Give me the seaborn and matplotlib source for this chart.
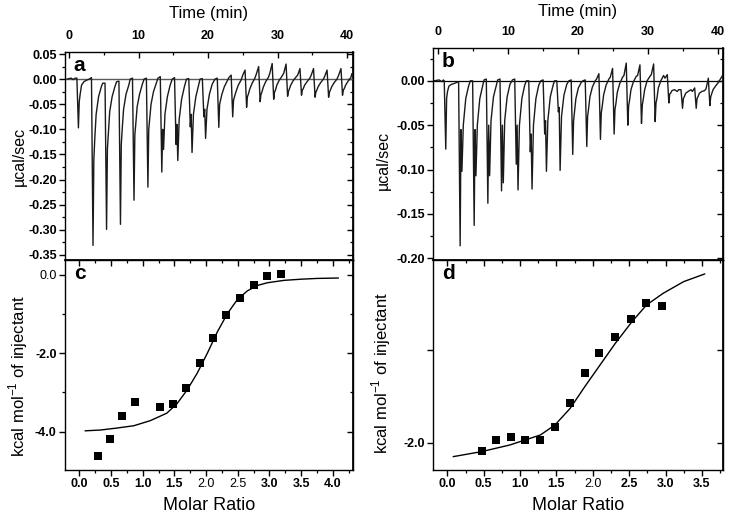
import numpy as np
import pandas as pd
import matplotlib
matplotlib.use("Agg")
import matplotlib.pyplot as plt
import seaborn as sns
from matplotlib.ticker import MultipleLocator, FixedLocator, FuncFormatter, FormatStrFormatter

sns.set_theme(style="white", rc={
    "axes.edgecolor": "black", "text.color": "black", "axes.labelcolor": "black",
    "xtick.color": "black", "ytick.color": "black",
})
plt.rcParams['font.family'] = ['Liberation Sans', 'DejaVu Sans']
plt.rcParams['axes.unicode_minus'] = False
plt.rcParams['mathtext.fontset'] = 'custom'
plt.rcParams['mathtext.rm'] = 'Liberation Sans'

# ---------------- Panel a: raw thermogram (per-injection vertices) -------------
a_tp   = [1.35, 3.45, 5.4, 7.4, 9.35, 11.35, 13.35, 15.4, 17.45, 19.4, 21.55, 23.55, 25.55, 27.5, 29.45, 31.45, 33.45, 35.4, 37.35, 39.35]
a_pre  = [0.002, 0.003, -0.008, -0.004, 0.002, 0.002, 0.005, 0.003, 0.001, 0.001, 0.002, 0.008, 0.018, 0.025, 0.031, 0.030, 0.021, 0.021, 0.018, 0.021]
a_d1   = [-0.097, -0.331, -0.299, -0.289, -0.241, -0.215, -0.185, -0.130, -0.095, -0.075, -0.096, -0.075, -0.056, -0.045, -0.040, -0.034, -0.032, -0.036, -0.036, -0.032]
a_bump = [-0.045, -0.160, -0.140, -0.130, -0.110, -0.100, -0.100, -0.090, -0.070, -0.060, -0.050, -0.042, -0.035, -0.030, -0.026, -0.024, -0.022, -0.026, -0.026, -0.022]
a_d2   = [-0.030, -0.120, -0.110, -0.100, -0.090, -0.080, -0.140, -0.162, -0.146, -0.118, -0.042, -0.036, -0.030, -0.026, -0.022, -0.020, -0.019, -0.022, -0.022, -0.019]
a_r1   = [-0.012, -0.070, -0.065, -0.060, -0.055, -0.050, -0.070, -0.080, -0.070, -0.060, -0.030, -0.026, -0.020, -0.016, -0.012, -0.012, -0.012, -0.015, -0.015, -0.012]
a_r2   = [-0.005, -0.035, -0.035, -0.030, -0.030, -0.025, -0.035, -0.040, -0.035, -0.030, -0.015, -0.012, -0.008, -0.005, -0.002, -0.003, -0.005, -0.007, -0.007, -0.004]
a_r3   = [-0.002, -0.015, -0.015, -0.012, -0.010, -0.008, -0.012, -0.015, -0.012, -0.010, -0.004, -0.002, 0.002, 0.004, 0.006, 0.004, 0.002, 0.000, 0.000, 0.003]
a_plat = [0.000, -0.008, -0.005, 0.000, 0.000, 0.002, 0.000, 0.000, 0.000, 0.000, 0.003, 0.008, 0.010, 0.012, 0.012, 0.008, 0.008, 0.006, 0.008, 0.008]
a_start_t = [-0.3, 0.3, 0.6, 0.9]
a_start_v = [0.000, 0.002, -0.001, 0.002]
a_end_t, a_end_v = 40.7, 0.011

# ---------------- Panel b: raw thermogram -------------
b_tp   = [1.15, 3.2, 5.2, 7.15, 9.1, 11.2, 13.2, 15.25, 17.2, 19.25, 21.25, 23.2, 25.15, 27.1, 29.05, 31.0, 32.95, 34.9, 36.85, 38.8]
b_pre  = [0.000, -0.001, 0.000, 0.002, 0.002, 0.002, 0.000, 0.001, 0.000, 0.001, 0.001, 0.008, 0.014, 0.020, 0.018, 0.019, 0.007, -0.010, -0.008, 0.003]
b_d1   = [-0.077, -0.186, -0.163, -0.138, -0.124, -0.094, -0.080, -0.060, -0.035, -0.083, -0.074, -0.066, -0.060, -0.050, -0.048, -0.046, -0.025, -0.031, -0.031, -0.028]
b_bump = [-0.020, -0.055, -0.055, -0.050, -0.050, -0.050, -0.060, -0.045, -0.030, -0.045, -0.040, -0.036, -0.032, -0.028, -0.027, -0.025, -0.015, -0.020, -0.020, -0.018]
b_d2   = [-0.012, -0.102, -0.107, -0.107, -0.115, -0.123, -0.122, -0.102, -0.101, -0.035, -0.032, -0.029, -0.026, -0.022, -0.021, -0.020, -0.014, -0.018, -0.018, -0.015]
b_r1   = [-0.006, -0.050, -0.050, -0.045, -0.045, -0.050, -0.050, -0.045, -0.040, -0.020, -0.018, -0.016, -0.013, -0.010, -0.010, -0.008, -0.011, -0.014, -0.014, -0.010]
b_r2   = [-0.004, -0.020, -0.020, -0.018, -0.018, -0.020, -0.020, -0.018, -0.016, -0.008, -0.007, -0.005, -0.003, -0.001, 0.000, 0.000, -0.010, -0.012, -0.012, -0.006]
b_r3   = [-0.003, -0.006, -0.006, -0.005, -0.004, -0.005, -0.005, -0.005, -0.004, -0.002, 0.000, 0.002, 0.004, 0.005, 0.005, 0.006, -0.012, -0.010, -0.011, -0.002]
b_plat = [-0.002, 0.000, 0.001, 0.001, 0.001, 0.000, 0.000, 0.000, 0.000, 0.000, 0.002, 0.004, 0.006, 0.006, 0.007, 0.003, -0.010, -0.012, -0.009, 0.000]
b_start_t = [-0.5, 0.2, 0.6, 0.8]
b_start_v = [0.000, 0.001, -0.001, 0.001]
b_end_t, b_end_v = 40.6, 0.006

# ---------------- Panel c: integrated heats + fit -------------
c_ratio = [0.29, 0.48, 0.68, 0.88, 1.28, 1.48, 1.69, 1.90, 2.11, 2.32, 2.54, 2.75, 2.97, 3.19]
c_heat  = [-4.61, -4.19, -3.60, -3.24, -3.37, -3.30, -2.89, -2.26, -1.62, -1.03, -0.60, -0.25, -0.03, 0.02]
c_fit_x = [0.09, 0.33, 0.59, 0.86, 1.12, 1.38, 1.54, 1.70, 1.86, 2.02, 2.18, 2.34, 2.49, 2.65, 2.81, 2.97, 3.23, 3.50, 3.76, 4.09]
c_fit_y = [-3.98, -3.96, -3.91, -3.85, -3.72, -3.53, -3.29, -2.94, -2.51, -2.00, -1.45, -0.98, -0.64, -0.41, -0.27, -0.20, -0.14, -0.11, -0.09, -0.08]

# ---------------- Panel d -------------
d_ratio = [0.47, 0.67, 0.87, 1.07, 1.28, 1.48, 1.68, 1.89, 2.09, 2.31, 2.52, 2.73, 2.95]
d_heat  = [-2.086, -1.971, -1.935, -1.971, -1.971, -1.827, -1.568, -1.252, -1.036, -0.856, -0.665, -0.496, -0.525]
d_fit_x = [0.08, 0.47, 0.86, 1.28, 1.48, 1.69, 1.89, 2.10, 2.31, 2.54, 2.74, 2.97, 3.25, 3.54]
d_fit_y = [-2.151, -2.097, -2.025, -1.917, -1.809, -1.629, -1.396, -1.162, -0.928, -0.694, -0.514, -0.388, -0.263, -0.180]


def build_trace(st, sv, tp, pre, d1, bump, d2, r1, r2, r3, plat, et, ev):
    t = list(st); v = list(sv)
    n = len(tp)
    for i in range(n):
        t += [tp[i] - 0.22, tp[i], tp[i] + 0.12, tp[i] + 0.25, tp[i] + 0.45, tp[i] + 0.8, tp[i] + 1.2]
        v += [pre[i], d1[i], bump[i], d2[i], r1[i], r2[i], r3[i]]
        if i + 1 < n:
            t.append(tp[i + 1] - 0.55); v.append(plat[i])
    t.append(et); v.append(ev)
    return pd.DataFrame({"t": t, "v": v})


W, H = 729, 520
fig = plt.figure(figsize=(W / 100, H / 100), dpi=100)


def rect(l, r, t, b):
    return [l / W, 1 - b / H, (r - l) / W, (b - t) / H]


ax_a = fig.add_axes(rect(65, 353, 52, 260))
ax_c = fig.add_axes(rect(65, 353, 260, 470))
ax_b = fig.add_axes(rect(433, 723, 48, 260))
ax_d = fig.add_axes(rect(433, 723, 260, 470))

TICK_FS = 9
LAB_FS = 12

dfa = build_trace(a_start_t, a_start_v, a_tp, a_pre, a_d1, a_bump, a_d2, a_r1, a_r2, a_r3, a_plat, a_end_t, a_end_v)
dfb = build_trace(b_start_t, b_start_v, b_tp, b_pre, b_d1, b_bump, b_d2, b_r1, b_r2, b_r3, b_plat, b_end_t, b_end_v)

ax_a.axhline(0, color="#5a5a5a", lw=1.0, zorder=1)
ax_b.axhline(0, color="black", lw=0.9, zorder=1)
sns.lineplot(data=dfa, x="t", y="v", ax=ax_a, color="#1a1a1a", lw=1.0, estimator=None, sort=False)
sns.lineplot(data=dfb, x="t", y="v", ax=ax_b, color="#1a1a1a", lw=1.0, estimator=None, sort=False)

sns.lineplot(x=c_fit_x, y=c_fit_y, ax=ax_c, color="black", lw=1.0, estimator=None, sort=False)
sns.scatterplot(x=c_ratio, y=c_heat, ax=ax_c, marker="s", color="black", s=36, edgecolor="black", linewidth=0, zorder=3)
sns.lineplot(x=d_fit_x, y=d_fit_y, ax=ax_d, color="black", lw=1.0, estimator=None, sort=False)
sns.scatterplot(x=d_ratio, y=d_heat, ax=ax_d, marker="s", color="black", s=36, edgecolor="black", linewidth=0, zorder=3)

ax_a.set_xlim(-0.58, 40.86); ax_a.set_ylim(-0.360, 0.054)
ax_b.set_xlim(-0.67, 40.67); ax_b.set_ylim(-0.202, 0.037)
ax_c.set_xlim(-0.227, 4.32); ax_c.set_ylim(-4.98, 0.38)
ax_d.set_xlim(-0.197, 3.79); ax_d.set_ylim(-2.295, -0.03)

for ax in (ax_a, ax_b, ax_c, ax_d):
    for s in ax.spines.values():
        s.set_visible(True); s.set_color("black"); s.set_linewidth(1.0)
    ax.set_xlabel(""); ax.set_ylabel("")


def style_ticks(ax, xmaj, xmin, ymaj, ymin, xfmt, yfmt, top_labels):
    ax.xaxis.set_major_locator(xmaj); ax.xaxis.set_minor_locator(xmin)
    ax.yaxis.set_major_locator(ymaj); ax.yaxis.set_minor_locator(ymin)
    ax.xaxis.set_major_formatter(xfmt); ax.yaxis.set_major_formatter(yfmt)
    if top_labels:
        ax.xaxis.tick_top()
        ax.tick_params(axis="x", which="both", direction="in", top=True, bottom=False,
                       labeltop=True, labelbottom=False, pad=7)
    else:
        ax.tick_params(axis="x", which="both", direction="out", bottom=True, top=False, pad=2)
        sx = ax.secondary_xaxis("top")
        sx.xaxis.set_major_locator(xmaj)
        sx.xaxis.set_minor_locator(xmin)
        sx.tick_params(axis="x", which="both", direction="in", labeltop=False)
        sx.tick_params(axis="x", which="major", length=4, width=1.0)
        sx.tick_params(axis="x", which="minor", length=2.5, width=0.9)
    ax.tick_params(axis="y", which="both", direction="out", left=True, right=False, pad=2)
    ax.tick_params(which="major", length=4, width=1.0, labelsize=TICK_FS)
    ax.tick_params(which="minor", length=2.5, width=0.9)
    sy = ax.secondary_yaxis("right")
    sy.yaxis.set_major_locator(ymaj); sy.yaxis.set_minor_locator(ymin)
    sy.tick_params(axis="y", which="both", direction="in", labelright=False)
    sy.tick_params(axis="y", which="major", length=4, width=1.0)
    sy.tick_params(axis="y", which="minor", length=2.5, width=0.9)


style_ticks(ax_a, MultipleLocator(10), MultipleLocator(5), MultipleLocator(0.05), MultipleLocator(0.025),
            FormatStrFormatter("%d"), FormatStrFormatter("%.2f"), True)
style_ticks(ax_b, MultipleLocator(10), MultipleLocator(5), MultipleLocator(0.05), MultipleLocator(0.025),
            FormatStrFormatter("%d"), FormatStrFormatter("%.2f"), True)
style_ticks(ax_c, MultipleLocator(0.5), MultipleLocator(0.25), MultipleLocator(2.0), MultipleLocator(1.0),
            FormatStrFormatter("%.1f"), FormatStrFormatter("%.1f"), False)
style_ticks(ax_d, MultipleLocator(0.5), MultipleLocator(0.25), FixedLocator([-2.0, -1.0]), FixedLocator([]),
            FormatStrFormatter("%.1f"),
            FuncFormatter(lambda v, p: "-2.0" if abs(v + 2.0) < 1e-6 else ""), False)

for ax in (ax_a, ax_b, ax_c, ax_d):
    for lab in ax.get_xticklabels() + ax.get_yticklabels():
        lab.set_fontweight("bold")

# axis labels
for ax, yc, xc in ((ax_a, 1.148, -0.16), (ax_b, 1.137, -0.172)):
    ax.set_xlabel("Time (min)", fontsize=LAB_FS)
    ax.xaxis.set_label_position("top")
    ax.xaxis.set_label_coords(0.5, yc)
    ax.xaxis.label.set_va("bottom")
    ax.set_ylabel("µcal/sec", fontsize=11.5)
    ax.yaxis.set_label_coords(xc, 0.5 if ax is ax_a else 0.47)
    ax.yaxis.label.set_va("center")

for ax, xc, yc in ((ax_c, -0.163, 0.448), (ax_d, -0.179, 0.462)):
    ax.set_xlabel("Molar Ratio", fontsize=13)
    ax.xaxis.set_label_coords(0.5, -0.167)
    ax.xaxis.label.set_va("center")
    ax.set_ylabel(r"kcal mol$^{\mathregular{-1}}$ of injectant", fontsize=12)
    ax.yaxis.set_label_coords(xc, yc)
    ax.yaxis.label.set_va("center")

# panel letters
for ax, letter in ((ax_a, "a"), (ax_b, "b"), (ax_c, "c"), (ax_d, "d")):
    ax.text(0.03, 0.98, letter, transform=ax.transAxes, fontsize=15, fontweight="bold",
            ha="left", va="top")

fig.savefig("out.png", dpi=100)
